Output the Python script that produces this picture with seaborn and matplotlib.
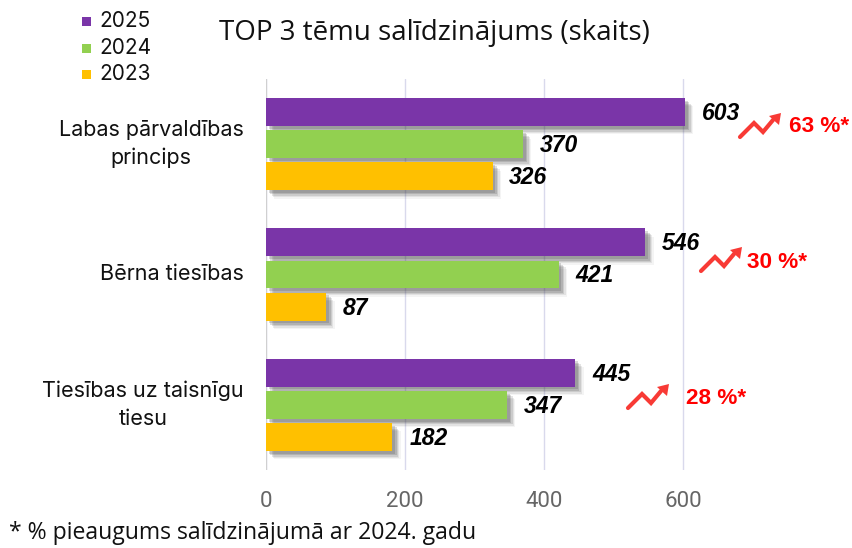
import matplotlib
matplotlib.use("Agg")
import matplotlib.pyplot as plt
import matplotlib.patheffects as pe
from matplotlib.lines import Line2D
from matplotlib.patches import Polygon, Rectangle
import seaborn as sns
import pandas as pd

W, H = 853, 548

categories = ["Labas pārvaldības\nprincips", "Bērna tiesības", "Tiesības uz taisnīgu\ntiesu"]
years = ["2025", "2024", "2023"]
values_2025 = [603, 546, 445]
values_2024 = [370, 421, 347]
values_2023 = [326, 87, 182]
growth = ["63 %*", "30 %*", "28 %*"]
colors = ["#7A35A8", "#92D050", "#FFC000"]

df = pd.DataFrame({
    "tema": categories * 3,
    "gads": [y for y in years for _ in categories],
    "skaits": values_2025 + values_2024 + values_2023,
})

sns.set_theme(style="white")
plt.rcParams["font.family"] = ["Noto Sans", "DejaVu Sans"]


def fx(px):
    return px / W


def fy(py):
    return 1 - py / H


fig = plt.figure(figsize=(W / 100, H / 100), dpi=100)
# 0 is at x=266 px, 600 at x=683 px
ax = fig.add_axes([fx(266), fy(470), fx(700 - 266), (470 - 79) / H])
sns.barplot(data=df, y="tema", x="skaits", hue="gads", hue_order=years, palette=colors,
            saturation=1, width=0.74, gap=0.13, legend=False, ax=ax, zorder=3,
            edgecolor="none", linewidth=0)
ax.set_xlim(0, 434 / 0.695)
ax.set_xticks([0, 200, 400, 600])
ax.set_xlabel("")
ax.set_ylabel("")
ax.grid(axis="x", color="#D9D9EC", lw=1, zorder=0)
ax.grid(axis="y", visible=False)
for s in ax.spines.values():
    s.set_visible(False)
ax.axvline(0, color="#D0D0D0", lw=1.6, zorder=1)
ax.tick_params(axis="x", length=0, pad=15, labelsize=16, labelcolor="#666666")
ax.tick_params(axis="y", length=0, pad=16, labelsize=15.5, labelcolor="#111111")
for lab in ax.get_yticklabels():
    lab.set_family(["Inter", "DejaVu Sans"])
    lab.set_multialignment("center")
    lab.set_linespacing(1.45)
    lab.set_verticalalignment("center")
for lab in ax.get_xticklabels():
    lab.set_family(["Roboto", "DejaVu Sans"])

# soft shadow, several offset layers since matplotlib has no blur
shadow = [pe.SimplePatchShadow(offset=(o, -o), shadow_rgbFace="#444444", alpha=a)
          for o, a in [(6.0, 0.06), (5.0, 0.10), (4.0, 0.14), (3.0, 0.18), (2.0, 0.2)]] + [pe.Normal()]
for cont in ax.containers:
    for bar in cont:
        bar.set_path_effects(shadow)
    labels = ax.bar_label(cont, padding=12, fontsize=16.5, fontweight="bold", fontstyle="italic",
                          family=["Liberation Sans"], color="black", zorder=5)
    for t in labels:
        t.xyann = (12, -1)

fig.text(fx(434), fy(33), "TOP 3 tēmu salīdzinājums (skaits)", ha="center", va="center",
         fontsize=20, color="#111111", family=["Open Sans", "DejaVu Sans"])
fig.text(fx(9), fy(533), "* % pieaugums salīdzinājumā ar 2024. gadu", ha="left", va="center",
         fontsize=16.6, color="#111111", family=["Open Sans", "DejaVu Sans"])

# legend
for year, color, py in zip(years, colors, [21, 48, 74]):
    fig.add_artist(Rectangle((fx(82), fy(py + 5)), 9 / W, 9 / H, transform=fig.transFigure,
                             facecolor=color, edgecolor="none"))
    fig.text(fx(99), fy(py), year, ha="left", va="center", fontsize=15,
             color="#111111", family=["Inter", "DejaVu Sans"])

# trend arrows and growth labels
arrow_x = [740, 701, 628]
arrow_y = [137, 271, 408]
text_x = [789, 747, 686]
text_y = [126, 263, 398]
for ax0, ay0, tx, ty, g in zip(arrow_x, arrow_y, text_x, text_y, growth):
    xs = [ax0, ax0 + 14, ax0 + 23, ax0 + 33]
    ys = [ay0, ay0 - 14, ay0 - 5, ay0 - 17]
    fig.add_artist(Line2D([fx(x) for x in xs], [fy(y) for y in ys], transform=fig.transFigure,
                          color="#F83A35", lw=3.0, solid_capstyle="round", solid_joinstyle="miter"))
    head = [(ax0 + 41, ay0 - 24), (ax0 + 39, ay0 - 12), (ax0 + 29, ay0 - 21)]
    fig.add_artist(Polygon([(fx(x), fy(y)) for x, y in head], transform=fig.transFigure,
                           facecolor="#F83A35", edgecolor="none"))
    fig.text(fx(tx), fy(ty), g, ha="left", va="center", fontsize=16.2, fontweight="bold",
             color="#FF0000", family=["Liberation Sans"])

fig.savefig("out.png", dpi=100)
